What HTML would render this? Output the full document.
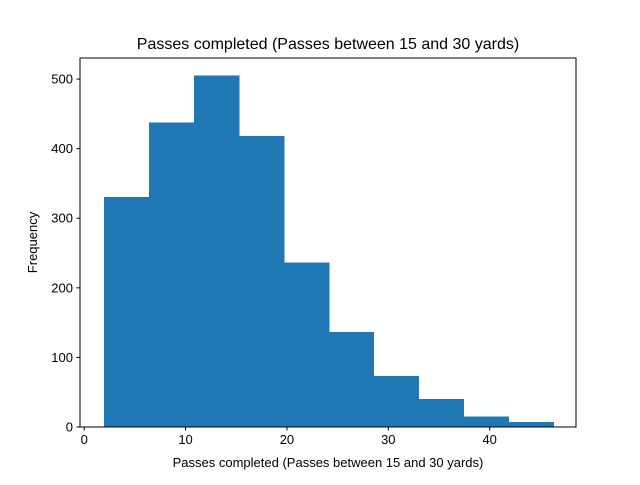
<!DOCTYPE html>
<html><head><meta charset="utf-8"><style>
body{margin:0;background:#fff;font-family:"Liberation Sans","DejaVu Sans",sans-serif}
</style></head><body>
<svg width="640" height="480" xmlns="http://www.w3.org/2000/svg">
<rect width="640" height="480" fill="#fff"/>
<text x="328" y="49" font-size="16" text-anchor="middle">Passes completed (Passes between 15 and 30 yards)</text>
<g id="bars"></g>
<rect x="80" y="58" width="496" height="369" fill="none" stroke="#000" stroke-width="1"/>
<g id="xt"></g><g id="yt"></g>
<text x="328" y="467" font-size="13" text-anchor="middle">Passes completed (Passes between 15 and 30 yards)</text>
<text transform="translate(37,242.5) rotate(-90)" font-size="13" text-anchor="middle">Frequency</text>
</svg>
<script>
const binStart = 2;
const binEnd = 46.3;
const counts = [330, 437, 505, 418, 236, 136, 73, 40, 15, 7];
const xTicks = [0, 10, 20, 30, 40];
const yTicks = [0, 100, 200, 300, 400, 500];
const NS = "http://www.w3.org/2000/svg";
const L = 80, R = 576, T = 58, B = 427;
const span = binEnd - binStart;
const xmin = binStart - 0.05 * span - 0.2, xmax = binEnd + 0.05 * span;
const ymax = Math.max(...counts) * 1.05;
const sx = v => L + (v - xmin) / (xmax - xmin) * (R - L);
const sy = v => B - v / ymax * (B - T);
const bw = span / counts.length;
const bars = document.getElementById('bars');
counts.forEach((c, i) => {
  const r = document.createElementNS(NS, 'rect');
  const x0 = sx(binStart + i * bw), x1 = sx(binStart + (i + 1) * bw);
  r.setAttribute('x', x0); r.setAttribute('width', x1 - x0);
  r.setAttribute('y', sy(c)); r.setAttribute('height', B - sy(c));
  r.setAttribute('fill', '#1f77b4');
  r.setAttribute('stroke', '#1f77b4');
  r.setAttribute('stroke-width', '0.6');
  r.setAttribute('shape-rendering', 'crispEdges');
  
  
  bars.appendChild(r);
});
const xt = document.getElementById('xt');
xTicks.forEach(t => {
  const x = sx(t);
  const l = document.createElementNS(NS, 'line');
  l.setAttribute('x1', x); l.setAttribute('x2', x); l.setAttribute('y1', B); l.setAttribute('y2', B + 3.5);
  l.setAttribute('stroke', '#000');
  
  
  xt.appendChild(l);
  const s = document.createElementNS(NS, 'text');
  s.setAttribute('x', x); s.setAttribute('y', B + 17); s.setAttribute('font-size', '13'); s.setAttribute('text-anchor', 'middle');
  s.textContent = t;
  
  
  xt.appendChild(s);
});
const yt = document.getElementById('yt');
yTicks.forEach(t => {
  const y = sy(t);
  const l = document.createElementNS(NS, 'line');
  l.setAttribute('x1', L - 3.5); l.setAttribute('x2', L); l.setAttribute('y1', y); l.setAttribute('y2', y);
  l.setAttribute('stroke', '#000');
  
  
  yt.appendChild(l);
  const s = document.createElementNS(NS, 'text');
  s.setAttribute('x', L - 7); s.setAttribute('y', y + 4.5); s.setAttribute('font-size', '13'); s.setAttribute('text-anchor', 'end');
  s.textContent = t;
  
  
  yt.appendChild(s);
});
</script>
</body></html>
